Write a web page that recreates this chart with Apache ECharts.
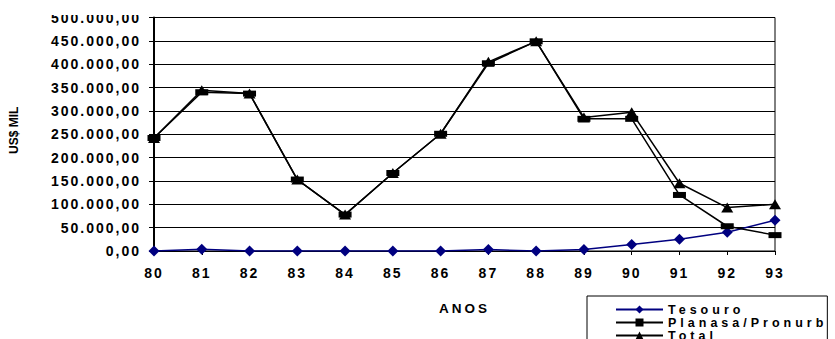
<!DOCTYPE html>
<html>
<head>
<meta charset="utf-8">
<script src="https://cdn.jsdelivr.net/npm/echarts@6/dist/echarts.min.js"></script>
<style>
  html, body { margin: 0; padding: 0; background: #fff; overflow: hidden; }
  body { width: 835px; height: 339px; position: relative; }
  /* the chart canvas runs past the page edges; the legend box is cut at the bottom */
  #chart { position: absolute; left: 0; top: -15px; width: 835px; height: 420px; }
  /* wide letter spacing of the old spreadsheet typography */
  #chart text[style*="14px"] { letter-spacing: 2px; }
  #chart text[style*="13.5px"] { letter-spacing: 3px; }
  #chart text[style*="12.5px"] { letter-spacing: 4px; }
</style>
</head>
<body>
<div id="chart"></div>
<script>
// Anos (19xx)
const anos = ['80', '81', '82', '83', '84', '85', '86', '87', '88', '89', '90', '91', '92', '93'];

// Recursos em US$ mil
const tesouro = [0, 4000, 0, 0, 0, 0, 0, 3000, 0, 3000, 14000, 25000, 40000, 66000];
const planasaPronurb = [242000, 340000, 337000, 153000, 78000, 167000, 251000, 402000, 449000, 283000, 283000, 120000, 53000, 34000];
const total = [242000, 344000, 337000, 153000, 78000, 167000, 251000, 405000, 449000, 286000, 297000, 145000, 93000, 100000];

// Eixo Y
const yMin = 0, yMax = 500000, yStep = 50000;

function formatoBR(v) {
  const inteiro = Math.round(v).toString().replace(/\B(?=(\d{3})+(?!\d))/g, '.');
  return inteiro + ',00';
}

const FONT = '"Liberation Sans", Arial, sans-serif';
const chart = echarts.init(document.getElementById('chart'), null, { renderer: 'svg' });

chart.setOption({
  animation: false,
  backgroundColor: '#fff',
  grid: {
    left: 154, right: 60, top: 32.5, bottom: 154,
    show: true, borderColor: '#000', borderWidth: 1, backgroundColor: 'transparent'
  },
  // white band over the top edge of the page, trimming the highest axis label
  graphic: [{
    type: 'rect', left: 0, top: 0, z: 100,
    shape: { width: 150, height: 30 },
    style: { fill: '#fff' }
  }],
  legend: {
    orient: 'vertical',
    left: 587, top: 311,
    padding: [7, 60, 20, 28],
    backgroundColor: '#fff',
    borderColor: '#000',
    borderWidth: 1,
    itemWidth: 47,
    itemHeight: 10,
    itemGap: 0,
    textStyle: { fontFamily: FONT, fontSize: 12.5, fontWeight: 'bold', color: '#000' },
    data: ['Tesouro', 'Planasa/Pronurb', 'Total']
  },
  xAxis: {
    type: 'category',
    data: anos,
    boundaryGap: false,
    name: 'ANOS',
    nameLocation: 'middle',
    nameGap: 50,
    nameTextStyle: { fontFamily: FONT, fontSize: 13.5, fontWeight: 'bold', color: '#000' },
    axisLine: { lineStyle: { color: '#000', width: 1 } },
    axisTick: { show: true, length: 4, lineStyle: { color: '#000' } },
    axisLabel: { fontFamily: FONT, fontSize: 14, fontWeight: 'bold', color: '#000', margin: 15 }
  },
  yAxis: {
    type: 'value',
    min: yMin, max: yMax, interval: yStep,
    name: 'US$ MIL',
    nameLocation: 'middle',
    nameGap: 134,
    nameRotate: 90,
    nameTextStyle: { fontFamily: FONT, fontSize: 12, fontWeight: 'bold', color: '#000', padding: [0, 0, 0, 8] },
    axisLine: { show: true, lineStyle: { color: '#000', width: 2 } },
    axisTick: { show: true, length: 5, lineStyle: { color: '#000' } },
    splitLine: { show: true, lineStyle: { color: '#000', width: 1 } },
    axisLabel: {
      fontFamily: FONT, fontSize: 14, fontWeight: 'bold', color: '#000', margin: 13,
      formatter: formatoBR
    }
  },
  series: [
    {
      name: 'Tesouro', type: 'line', data: tesouro,
      symbol: 'diamond', symbolSize: [11, 11],
      lineStyle: { color: '#000080', width: 1.5 },
      itemStyle: { color: '#000080' },
      z: 3
    },
    {
      name: 'Planasa/Pronurb', type: 'line', data: planasaPronurb,
      symbol: 'rect', symbolSize: [13, 6],
      lineStyle: { color: '#000', width: 1.5 },
      itemStyle: { color: '#000' },
      z: 4
    },
    {
      name: 'Total', type: 'line', data: total,
      symbol: 'triangle', symbolSize: [12, 10],
      lineStyle: { color: '#000', width: 1.5 },
      itemStyle: { color: '#000' },
      z: 5
    }
  ]
});
</script>
</body>
</html>
